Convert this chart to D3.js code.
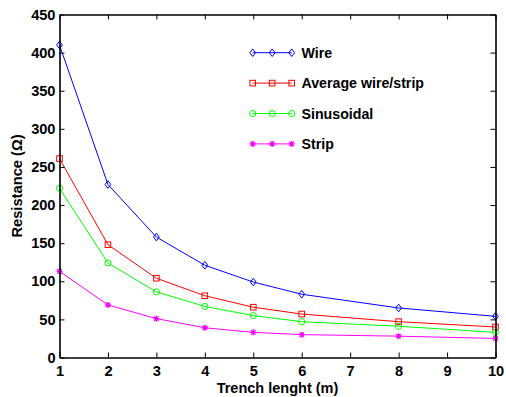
<!DOCTYPE html>
<html>
<head>
<meta charset="utf-8">
<script src="https://cdn.jsdelivr.net/npm/d3@7"></script>
<style>
  html, body { margin: 0; padding: 0; background: #fff; }
  svg { display: block; font-family: "Liberation Sans", Arial, Helvetica, sans-serif; }
</style>
</head>
<body>
<svg id="chart" width="506" height="397"></svg>
<script>
// Trench length (m) at which resistance was computed
const trenchLength = [1, 2, 3, 4, 5, 6, 8, 10];

// Resistance (Ω) for each electrode geometry
const wire        = [410, 227, 158, 121, 99, 83, 65, 54];
const averageWS   = [261, 148, 104, 81, 66, 57, 47, 40];
const sinusoidal  = [222, 124, 86, 67, 55, 47, 41, 33];
const strip       = [113, 69, 51, 39, 33, 30, 28, 25];

const seriesNames = ["Wire", "Average wire/strip", "Sinusoidal", "Strip"];
const xTicks = [1, 2, 3, 4, 5, 6, 7, 8, 9, 10];
const yTicks = [0, 50, 100, 150, 200, 250, 300, 350, 400, 450];

const series = [
  { name: seriesNames[0], values: wire,       color: "#0000ff", marker: "diamond" },
  { name: seriesNames[1], values: averageWS,  color: "#ff0000", marker: "square" },
  { name: seriesNames[2], values: sinusoidal, color: "#00ff00", marker: "circle" },
  { name: seriesNames[3], values: strip,      color: "#ff00ff", marker: "star" }
];

const svg = d3.select("#chart");
const m = { left: 59.5, right: 495.5, top: 14.5, bottom: 357.5 };

const x = d3.scaleLinear().domain([1, 10]).range([m.left, m.right]);
const y = d3.scaleLinear().domain([0, 450]).range([m.bottom, m.top]);

// Data lines
const line = d3.line().x((d, i) => x(trenchLength[i])).y(d => y(d));
const g = svg.append("g");

function drawMarker(sel, type, cx, cy, color) {
  if (type === "diamond") {
    sel.append("path")
      .attr("d", `M${cx},${cy - 3.8}L${cx + 2.9},${cy}L${cx},${cy + 3.8}L${cx - 2.9},${cy}Z`)
      .attr("fill", "none").attr("stroke", color).attr("stroke-width", 1);
  } else if (type === "square") {
    sel.append("rect")
      .attr("x", cx - 2.8).attr("y", cy - 2.8).attr("width", 5.6).attr("height", 5.6)
      .attr("fill", "none").attr("stroke", color).attr("stroke-width", 1);
  } else if (type === "circle") {
    sel.append("circle")
      .attr("cx", cx).attr("cy", cy).attr("r", 3.1)
      .attr("fill", "none").attr("stroke", color).attr("stroke-width", 1);
  } else if (type === "star") {
    const r = 3;
    const d = [
      `M${cx - r},${cy}L${cx + r},${cy}`,
      `M${cx},${cy - r}L${cx},${cy + r}`,
      `M${cx - r * 0.75},${cy - r * 0.75}L${cx + r * 0.75},${cy + r * 0.75}`,
      `M${cx - r * 0.75},${cy + r * 0.75}L${cx + r * 0.75},${cy - r * 0.75}`
    ].join("");
    sel.append("path").attr("d", d)
      .attr("fill", "none").attr("stroke", color).attr("stroke-width", 1.3);
  }
}

series.forEach(s => {
  g.append("path")
    .datum(s.values)
    .attr("d", line)
    .attr("fill", "none")
    .attr("stroke", s.color)
    .attr("stroke-width", 1);
  s.values.forEach((v, i) => drawMarker(g, s.marker, x(trenchLength[i]), y(v), s.color));
});

// Axes box with inward ticks on all four sides
const axisColor = "#000";
const tickLen = 5;
const axes = svg.append("g");

const bottomAxis = d3.axisBottom(x).tickValues(xTicks).tickSizeInner(-tickLen).tickSizeOuter(0).tickPadding(8).tickFormat(d3.format("d"));
const topAxis = d3.axisTop(x).tickValues(xTicks).tickSizeInner(-tickLen).tickSizeOuter(0).tickFormat("");
const leftAxis = d3.axisLeft(y).tickValues(yTicks).tickSizeInner(-tickLen).tickSizeOuter(0).tickPadding(4).tickFormat(d3.format("d"));
const rightAxis = d3.axisRight(y).tickValues(yTicks).tickSizeInner(-tickLen).tickSizeOuter(0).tickFormat("");

function styleAxis(sel) {
  sel.select(".domain").attr("stroke", axisColor).attr("stroke-width", 1.6);
  sel.selectAll(".tick line").attr("stroke", axisColor).attr("stroke-width", 1);
  sel.selectAll(".tick text")
    .attr("fill", "#000")
    .style("font-size", "14.6px")
    .style("font-weight", "bold")
    .style("font-family", "'Liberation Sans', Arial, Helvetica, sans-serif");
}

axes.append("g").attr("transform", `translate(0,${m.bottom})`).call(bottomAxis).call(styleAxis);
axes.append("g").attr("transform", `translate(0,${m.top})`).call(topAxis).call(styleAxis);
axes.append("g").attr("transform", `translate(${m.left},0)`).call(leftAxis).call(styleAxis);
axes.append("g").attr("transform", `translate(${m.right},0)`).call(rightAxis).call(styleAxis);

// Axis titles
svg.append("text")
  .attr("x", (m.left + m.right) / 2)
  .attr("y", 392.5)
  .attr("text-anchor", "middle")
  .style("font-size", "14.5px")
  .style("font-weight", "bold")
  .text("Trench lenght (m)");

svg.append("text")
  .attr("transform", `translate(22,${(m.top + m.bottom) / 2}) rotate(-90)`)
  .attr("text-anchor", "middle")
  .style("font-size", "14.7px")
  .style("font-weight", "bold")
  .text("Resistance (Ω)");

// Legend
const legend = svg.append("g");
const legendX0 = 252.7, legendX1 = 291.7, legendTextX = 301.5;
const legendY0 = 52.7, legendStep = 30.4;
series.forEach((s, i) => {
  const ly = legendY0 + i * legendStep;
  legend.append("line")
    .attr("x1", legendX0).attr("x2", legendX1)
    .attr("y1", ly).attr("y2", ly)
    .attr("stroke", s.color).attr("stroke-width", 1);
  [legendX0, (legendX0 + legendX1) / 2, legendX1].forEach(mx => drawMarker(legend, s.marker, mx, ly, s.color));
  legend.append("text")
    .attr("x", legendTextX)
    .attr("y", ly)
    .attr("dy", "0.36em")
    .style("font-size", "14.2px")
    .style("font-weight", "bold")
    .text(s.name);
});
</script>
</body>
</html>
